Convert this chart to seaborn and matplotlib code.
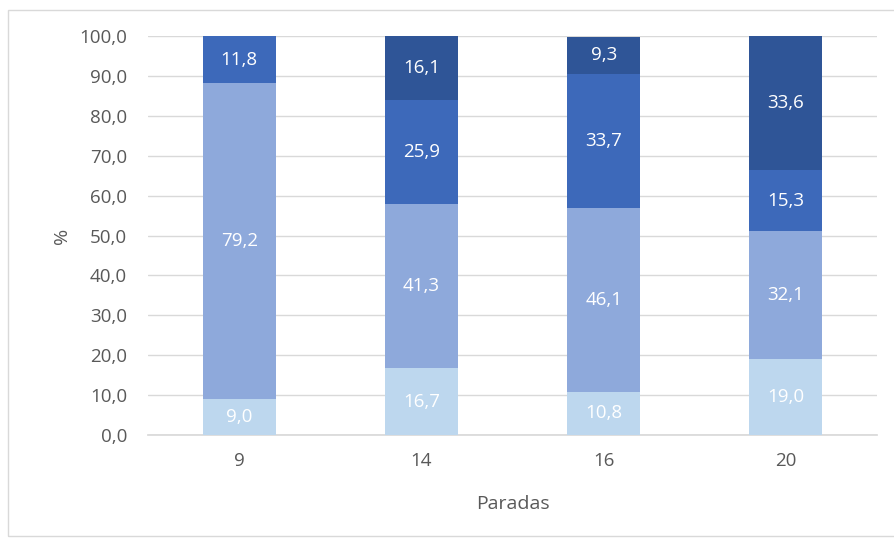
import matplotlib
matplotlib.use("Agg")
import matplotlib.pyplot as plt
import numpy as np
import seaborn as sns

paradas = ["9", "14", "16", "20"]
serie_1 = [9.0, 16.7, 10.8, 19.0]
serie_2 = [79.2, 41.3, 46.1, 32.1]
serie_3 = [11.8, 25.9, 33.7, 15.3]
serie_4 = [0.0, 16.1, 9.3, 33.6]
yticks = np.arange(0, 101, 10)

colors = ["#BDD7EE", "#8EA9DB", "#3D69BA", "#2F5597"]

sns.set_theme(style="white")
plt.rcParams['font.family'] = ['Open Sans', 'DejaVu Sans']

fig = plt.figure(figsize=(8.95, 5.39), dpi=100)
ax = fig.add_axes([0.1654, 0.193, 0.8145, 0.740])

bottom = np.zeros(len(paradas))
for vals, c in zip([serie_1, serie_2, serie_3, serie_4], colors):
    vals = np.array(vals)
    sns.barplot(x=paradas, y=vals, bottom=bottom, color=c, width=0.4,
                saturation=1, linewidth=0, ax=ax, zorder=3)
    for i, v in enumerate(vals):
        if v > 0:
            ax.text(i, bottom[i] + v / 2, ("%.1f" % v).replace(".", ","),
                    ha="center", va="center", color="white", fontsize=13.5, zorder=4)
    bottom = bottom + vals

ax.set_ylim(0, 100)
ax.set_xlim(-0.5, 3.5)
ax.set_yticks(yticks)
ax.set_yticklabels([("%.1f" % t).replace(".", ",") for t in yticks])
ax.yaxis.grid(True, color="#D9D9D9", linewidth=1, zorder=0)
ax.set_axisbelow(True)
for s in ["top", "right", "left"]:
    ax.spines[s].set_visible(False)
ax.spines["bottom"].set_color("#D9D9D9")
ax.tick_params(axis="y", length=0, colors="#595959", labelsize=13.5, pad=15)
ax.tick_params(axis="x", length=0, colors="#595959", labelsize=13.5, pad=12)
ax.set_xlabel("Paradas", color="#595959", fontsize=14, labelpad=18)
ax.set_ylabel("%", color="#595959", fontsize=14, labelpad=6)

fig.patches.append(plt.Rectangle((0.009, 0.006), 1.2, 0.975, transform=fig.transFigure,
                                 fill=False, edgecolor="#D9D9D9", linewidth=1))

fig.savefig("out.png", dpi=100)
